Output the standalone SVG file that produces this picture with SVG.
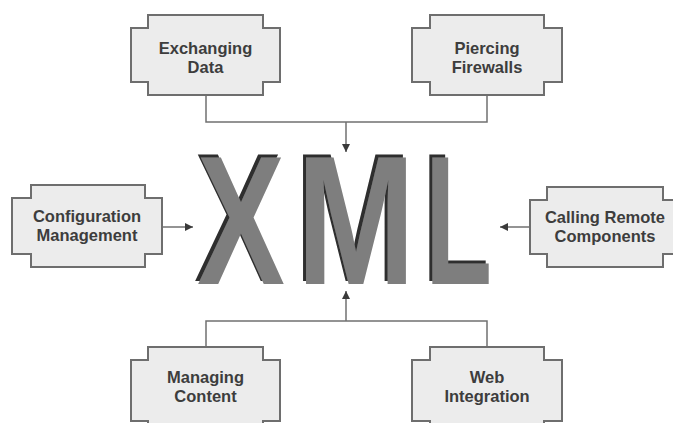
<svg xmlns="http://www.w3.org/2000/svg" width="673" height="423" viewBox="0 0 673 423">
  <style>
    .box { fill: #ececec; stroke: #6e6e6e; stroke-width: 2; }
    .lbl { font-family: "Liberation Sans", Arial, sans-serif; font-weight: bold; font-size: 16.5px; fill: #3d3d3d; text-anchor: middle; }
    .wire { fill: none; stroke: #707070; stroke-width: 1.5; }
    .big { font-family: "Liberation Sans", Arial, sans-serif; font-weight: bold; font-size: 183px; fill: #7e7e7e; }
  </style>
  <defs>
    <marker id="arrow" viewBox="0 0 10 10" refX="10" refY="5" markerWidth="8" markerHeight="8" markerUnits="userSpaceOnUse" orient="auto">
      <path d="M0 0 L10 5 L0 10 Z" fill="#3a3a3a"/>
    </marker>
    <!-- dark copy of the lettering, shifted up and left, drawn behind it -->
    <filter id="shade" x="-10%" y="-10%" width="120%" height="120%">
      <feFlood flood-color="#2e2e2e"/>
      <feComposite in2="SourceAlpha" operator="in"/>
      <feOffset dx="-3" dy="-3" result="back"/>
      <feMerge>
        <feMergeNode in="back"/>
        <feMergeNode in="SourceGraphic"/>
      </feMerge>
    </filter>
  </defs>
  <rect width="673" height="423" fill="#ffffff"/>

  <!-- connectors -->
  <g id="connectors">
    <path class="wire" d="M206 95 V122 H487 V95"/>
    <path class="wire" d="M346 122 V152" marker-end="url(#arrow)"/>
    <path class="wire" d="M206 347 V321 H487 V347"/>
    <path class="wire" d="M346 321 V291" marker-end="url(#arrow)"/>
    <path class="wire" d="M162 227 H193" marker-end="url(#arrow)"/>
    <path class="wire" d="M530 227 H500" marker-end="url(#arrow)"/>
  </g>

  <!-- central XML lettering -->
  <g id="xml" filter="url(#shade)">
    <text class="big" transform="translate(241 284) scale(0.72 1)" text-anchor="middle">X</text>
    <text class="big" transform="translate(356 284) scale(0.78 1)" text-anchor="middle">M</text>
    <text class="big" transform="translate(425 284) scale(0.6 1)">L</text>
  </g>

  <g id="exchanging-data">
    <path class="box" d="M148 15 H263 V28 H280 V82 H263 V95 H148 V82 H131 V28 H148 Z"/>
    <text class="lbl" y="54"><tspan x="205.5">Exchanging</tspan><tspan x="205.5" dy="18.5">Data</tspan></text>
  </g>

  <g id="piercing-firewalls">
    <path class="box" d="M430 15 H544 V28 H562 V82 H544 V95 H430 V82 H412 V28 H430 Z"/>
    <text class="lbl" y="54"><tspan x="487">Piercing</tspan><tspan x="487" dy="18.5">Firewalls</tspan></text>
  </g>

  <g id="configuration-management">
    <path class="box" d="M31 185 H145 V198 H162 V254 H145 V267 H31 V254 H12 V198 H31 Z"/>
    <text class="lbl" y="222"><tspan x="87">Configuration</tspan><tspan x="87" dy="18.5">Management</tspan></text>
  </g>

  <g id="calling-remote-components">
    <path class="box" d="M547 187 H663 V200 H680 V254 H663 V267 H547 V254 H530 V200 H547 Z"/>
    <text class="lbl" y="223"><tspan x="605">Calling Remote</tspan><tspan x="605" dy="18.5">Components</tspan></text>
  </g>

  <g id="managing-content">
    <path class="box" d="M148 347 H263 V360 H280 V421 H263 V434 H148 V421 H131 V360 H148 Z"/>
    <text class="lbl" y="383"><tspan x="205.5">Managing</tspan><tspan x="205.5" dy="19">Content</tspan></text>
  </g>

  <g id="web-integration">
    <path class="box" d="M430 347 H544 V360 H562 V421 H544 V434 H430 V421 H412 V360 H430 Z"/>
    <text class="lbl" y="383"><tspan x="487">Web</tspan><tspan x="487" dy="19">Integration</tspan></text>
  </g>
</svg>
